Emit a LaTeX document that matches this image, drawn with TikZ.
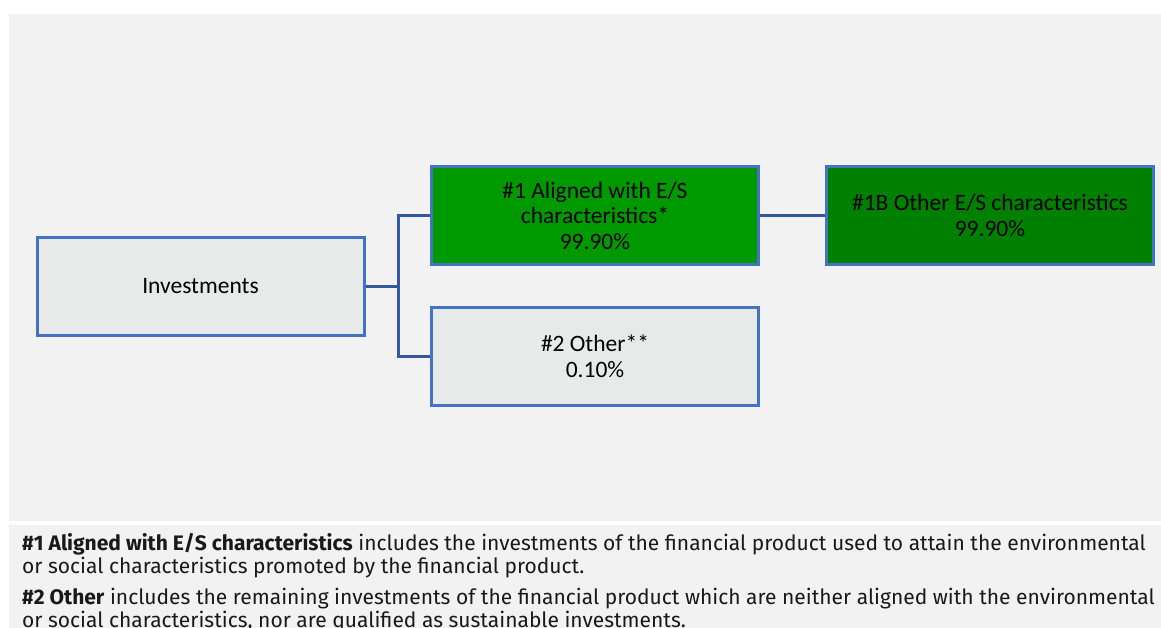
\documentclass[tikz,border=0pt]{standalone}
\usepackage{fontspec}
\setmainfont{Carlito}
\newfontfamily\notefont{Fira Sans}
\definecolor{panel}{HTML}{F2F2F2}
\definecolor{boxgray}{HTML}{E8E9E9}
\definecolor{boxline}{HTML}{4472C4}
\definecolor{connline}{HTML}{3358A0}
\definecolor{greenA}{HTML}{009900}
\definecolor{greenB}{HTML}{008000}
\begin{document}
\begin{tikzpicture}[x=1pt,y=-1pt,
  box/.style={draw=boxline, line width=3pt, rectangle, minimum width=327pt, minimum height=98pt,
    align=center, font=\fontsize{23.5}{25.5}\selectfont, text=black, inner sep=0pt},
  conn/.style={draw=connline, line width=3pt},
  note/.style={anchor=base west, align=left, inner sep=0pt, font=\notefont\fontsize{21}{23}\selectfont, text=black!90}]
\useasboundingbox (0,0) rectangle (1161,628);
\clip (0,0) rectangle (1161,628);
\fill[white] (0,0) rectangle (1161,628);
\fill[panel] (9,14) rectangle (1161,521);
\fill[panel] (9,525) rectangle (1161,628);
\node[box, fill=boxgray] (inv) at (200.5,286.5) {Investments};
\node[box, fill=greenA] (a1) at (595,215.5) {\#1 Aligned with E/S\\characteristics*\\99.90\%};
\node[box, fill=boxgray] (a2) at (595,356.5) {\#2 Other**\\0.10\%};
\node[box, fill=greenB] (b1) at (990,215.5) {\#1B Other E/S characteristics\\99.90\%};
\draw[conn] (inv.east) -- ++(33,0) coordinate (j) |- (a1.west);
\draw[conn] (j) |- (a2.west);
\draw[conn] (a1.east) -- (b1.west);
\node[note] (n1) at (22,573) {\textbf{\#1 Aligned with E/S characteristics} includes the investments of the financial product used to attain the environmental\\or social characteristics promoted by the financial product.};
\node[note] (n2) at (22,627) {\textbf{\#2 Other} includes the remaining investments of the financial product which are neither aligned with the environmental\\or social characteristics, nor are qualified as sustainable investments.};
\end{tikzpicture}
\end{document}
